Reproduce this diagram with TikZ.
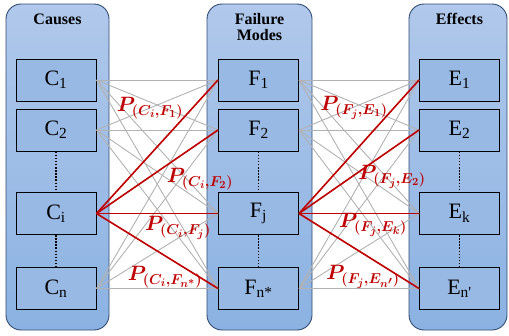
\documentclass[tikz,border=0pt]{standalone}
\usepackage{fontspec}
\setmainfont{Liberation Serif}
\usepackage{bm}
\definecolor{paneltop}{RGB}{176,200,235}
\definecolor{panelbot}{RGB}{139,178,226}
\definecolor{panelborder}{RGB}{50,75,115}
\definecolor{boxfill}{RGB}{152,185,228}
\definecolor{linkgray}{RGB}{178,178,178}
\definecolor{linkred}{RGB}{192,0,0}
\begin{document}
\begin{tikzpicture}[x=1pt,y=-1pt,
  panel/.style={rounded corners=15pt, draw=panelborder, line width=0.9pt, top color=paneltop, bottom color=panelbot, inner sep=0},
  title/.style={font=\fontsize{16}{19}\selectfont\bfseries, align=center},
  box/.style={draw=black, line width=1pt, fill=boxfill, minimum width=80pt, minimum height=42pt, inner sep=0, font=\fontsize{22}{26}\selectfont},
  glink/.style={draw=linkgray, line width=0.9pt},
  rlink/.style={draw=linkred, line width=1.6pt},
  plabel/.style={text=linkred, font=\fontsize{21}{24}\selectfont, inner sep=0},
  dots/.style={draw=black, line width=1.5pt, dash pattern=on 1.5pt off 1.6pt}]
\useasboundingbox (0,0) rectangle (509,335);
% panels
\node[panel, minimum width=103pt, minimum height=326pt] (pc) at (57.5,167) {};
\node[panel, minimum width=105pt, minimum height=326pt] (pf) at (259.5,167) {};
\node[panel, minimum width=98pt, minimum height=326pt] (pe) at (458,167) {};
\node[title] (tc) at (57.5,19) {Causes};
\node[title] (tf) at (259.5,27) {Failure\\[-3pt]Modes};
\node[title] (te) at (459.5,18.5) {Effects};
% boxes
\node[box] (c1) at (56,80) {C\textsubscript{1}};
\node[box] (c2) at (56,130) {C\textsubscript{2}};
\node[box] (ci) at (56,213.5) {C\textsubscript{i}};
\node[box] (cn) at (56,288.5) {C\textsubscript{n}};
\node[box] (f1) at (258.5,80) {F\textsubscript{1}};
\node[box] (f2) at (258.5,130) {F\textsubscript{2}};
\node[box] (fj) at (258.5,213.5) {F\textsubscript{j}};
\node[box] (fn) at (258.5,288.5) {F\textsubscript{n*}};
\node[box] (e1) at (459.5,80) {E\textsubscript{1}};
\node[box] (e2) at (459.5,130) {E\textsubscript{2}};
\node[box] (ek) at (459.5,213.5) {E\textsubscript{k}};
\node[box] (en) at (459.5,288.5) {E\textsubscript{n\textquotesingle}};
% dotted
\foreach \a/\b/\c/\d in {c2/ci/ci/cn, f2/fj/fj/fn, e2/ek/ek/en}{
  \draw[dots] (\a.south) -- (\b.north);
  \draw[dots] (\c.south) -- (\d.north);
}
% gray links
\foreach \a in {c1,c2,ci,cn}{
  \foreach \b in {f1,f2,fj,fn}{
    \draw[glink] (\a.east) -- (\b.west);
  }
}
\foreach \a in {f1,f2,fj,fn}{
  \foreach \b in {e1,e2,ek,en}{
    \draw[glink] (\a.east) -- (\b.west);
  }
}
% red links
\foreach \b in {f1,f2,fj,fn}{ \draw[rlink] (ci.east) -- (\b.west); }
\foreach \b in {e1,e2,ek,en}{ \draw[rlink] (fj.east) -- (\b.west); }
% labels
\node[plabel] (l1) at (150,108) {$\bm{P_{(C_i,F_1)}}$};
\node[plabel] (l2) at (200,179) {$\bm{P_{(C_i,F_2)}}$};
\node[plabel] (l3) at (178,228) {$\bm{P_{(C_i,F_j)}}$};
\node[plabel] (l4) at (165,277) {$\bm{P_{(C_i,F_{n^*})}}$};
\node[plabel] (r1) at (354,108) {$\bm{P_{(F_j,E_1)}}$};
\node[plabel] (r2) at (392,177) {$\bm{P_{(F_j,E_2)}}$};
\node[plabel] (r3) at (373,225) {$\bm{P_{(F_j,E_k)}}$};
\node[plabel] (r4) at (363,277) {$\bm{P_{(F_j,E_{n'})}}$};
\end{tikzpicture}
\end{document}
